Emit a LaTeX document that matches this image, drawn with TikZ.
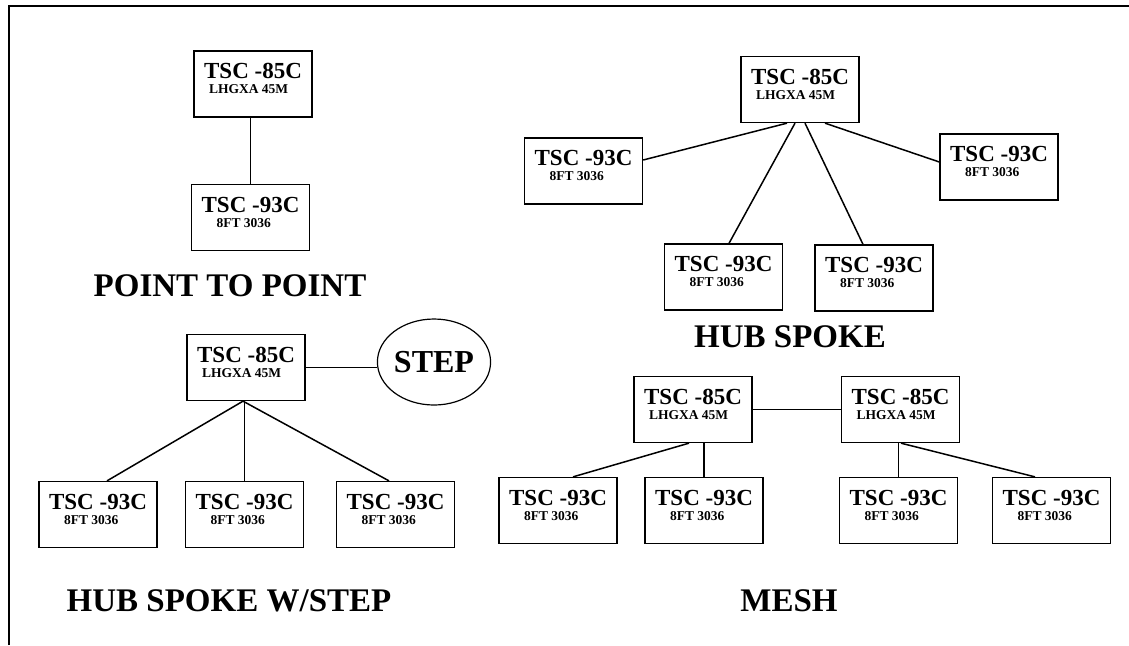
\documentclass[tikz,border=0pt]{standalone}
\usepackage{fontspec}
\setmainfont{Liberation Serif}
\usetikzlibrary{shapes.geometric,calc}

\newcommand{\tscbig}{\fontsize{11.5}{13}\selectfont\bfseries}
\newcommand{\tscsmall}{\fontsize{6.75}{8}\selectfont\bfseries}
\newcommand{\unittext}[3]{\vbox to 33pt{\baselineskip=7.5pt\vskip 6.2pt\hbox{\tscbig #1}\hbox{\hspace*{#3}\tscsmall #2}\vfil}}
\newcommand{\hubunit}{\unittext{TSC -85C}{LHGXA 45M}{2.5pt}}
\newcommand{\siteunit}{\unittext{TSC -93C}{8FT 3036}{7.5pt}}

\begin{document}
\begin{tikzpicture}[x=0.5pt,y=0.5pt,yscale=-1,
  unitbox/.style={draw, line width=0.65pt, minimum width=59pt, minimum height=33pt, inner sep=0pt},
  stepoval/.style={ellipse, draw, line width=0.6pt, minimum width=54pt, minimum height=43pt, inner sep=0pt, font=\fontsize{16}{18}\selectfont\bfseries},
  link/.style={line width=0.75pt},
  caption/.style={font=\fontsize{16.5}{18}\selectfont\bfseries, inner sep=0pt, anchor=base}]
\useasboundingbox (0,0) rectangle (1129,645);

%Frame
\draw [line width=1pt] (9,645) -- (9,6) -- (1129,6);

%Point to point
\node [unitbox] (pphub) at (253,84) {\hubunit};
\node [unitbox] (ppsite) at (250.5,217.5) {\siteunit};
\draw [link] (ppsite.north) -- (ppsite.north |- pphub.south);
% Text Node
\node [caption] (pptitle) at (230,296) {POINT TO POINT};

%Hub spoke
\node [unitbox] (hshub) at (800,89.5) {\hubunit};
\node [unitbox] (hsleft) at (583.5,171) {\siteunit};
\node [unitbox] (hsright) at (999,167) {\siteunit};
\node [unitbox] (hsbl) at (723.5,277) {\siteunit};
\node [unitbox] (hsbr) at (874,278) {\siteunit};
\draw [link] ($(hshub.south)+(-13,0)$) -- ($(hsleft.east)+(0,-11)$);
\draw [link] ($(hshub.south)+(-5,0)$) -- ($(hsbl.north)+(5.5,0)$);
\draw [link] ($(hshub.south)+(5,0)$) -- ($(hsbr.north)+(-11,0)$);
\draw [link] ($(hshub.south)+(25,0)$) -- ($(hsright.west)+(0,-5)$);
% Text Node
\node [caption] (hstitle) at (790,347) {HUB SPOKE};

%Hub spoke w/step
\node [unitbox] (swhub) at (246,367.5) {\hubunit};
\node [stepoval] (swstep) at (434,362) {STEP};
\draw [link] (swhub.east) -- (swhub.east -| swstep.west);
\foreach \n/\x in {1/98, 2/244.5, 3/395.5}
  \node [unitbox] (swsite\n) at (\x,514.5) {\siteunit};
\draw [link] ($(swhub.south)+(-3,0)$) -- ($(swsite1.north)+(9,0)$);
\draw [link] (swsite2.north) -- (swsite2.north |- swhub.south);
\draw [link] ($(swhub.south)+(-3,0)$) -- ($(swsite3.north)+(-6.5,0)$);
% Text Node
\node [caption] (swtitle) at (229,611) {HUB SPOKE W/STEP};

%Mesh
\node [unitbox] (meshhubl) at (693,409.5) {\hubunit};
\node [unitbox] (meshhubr) at (900.5,409.5) {\hubunit};
\draw [link] (meshhubl.east) -- (meshhubr.west);
\foreach \n/\x in {1/558, 2/704, 3/898.5, 4/1051.5}
  \node [unitbox] (meshsite\n) at (\x,510.5) {\siteunit};
\draw [link] ($(meshhubl.south)+(-4,0)$) -- ($(meshsite1.north)+(15,0)$);
\draw [link] (meshsite2.north) -- (meshsite2.north |- meshhubl.south);
\draw [link] (meshsite3.north) -- (meshsite3.north |- meshhubr.south);
\draw [link] ($(meshhubr.south)+(0.5,0)$) -- ($(meshsite4.north)+(-16.5,0)$);
% Text Node
\node [caption] (meshtitle) at (789,611) {MESH};

\end{tikzpicture}
\end{document}
